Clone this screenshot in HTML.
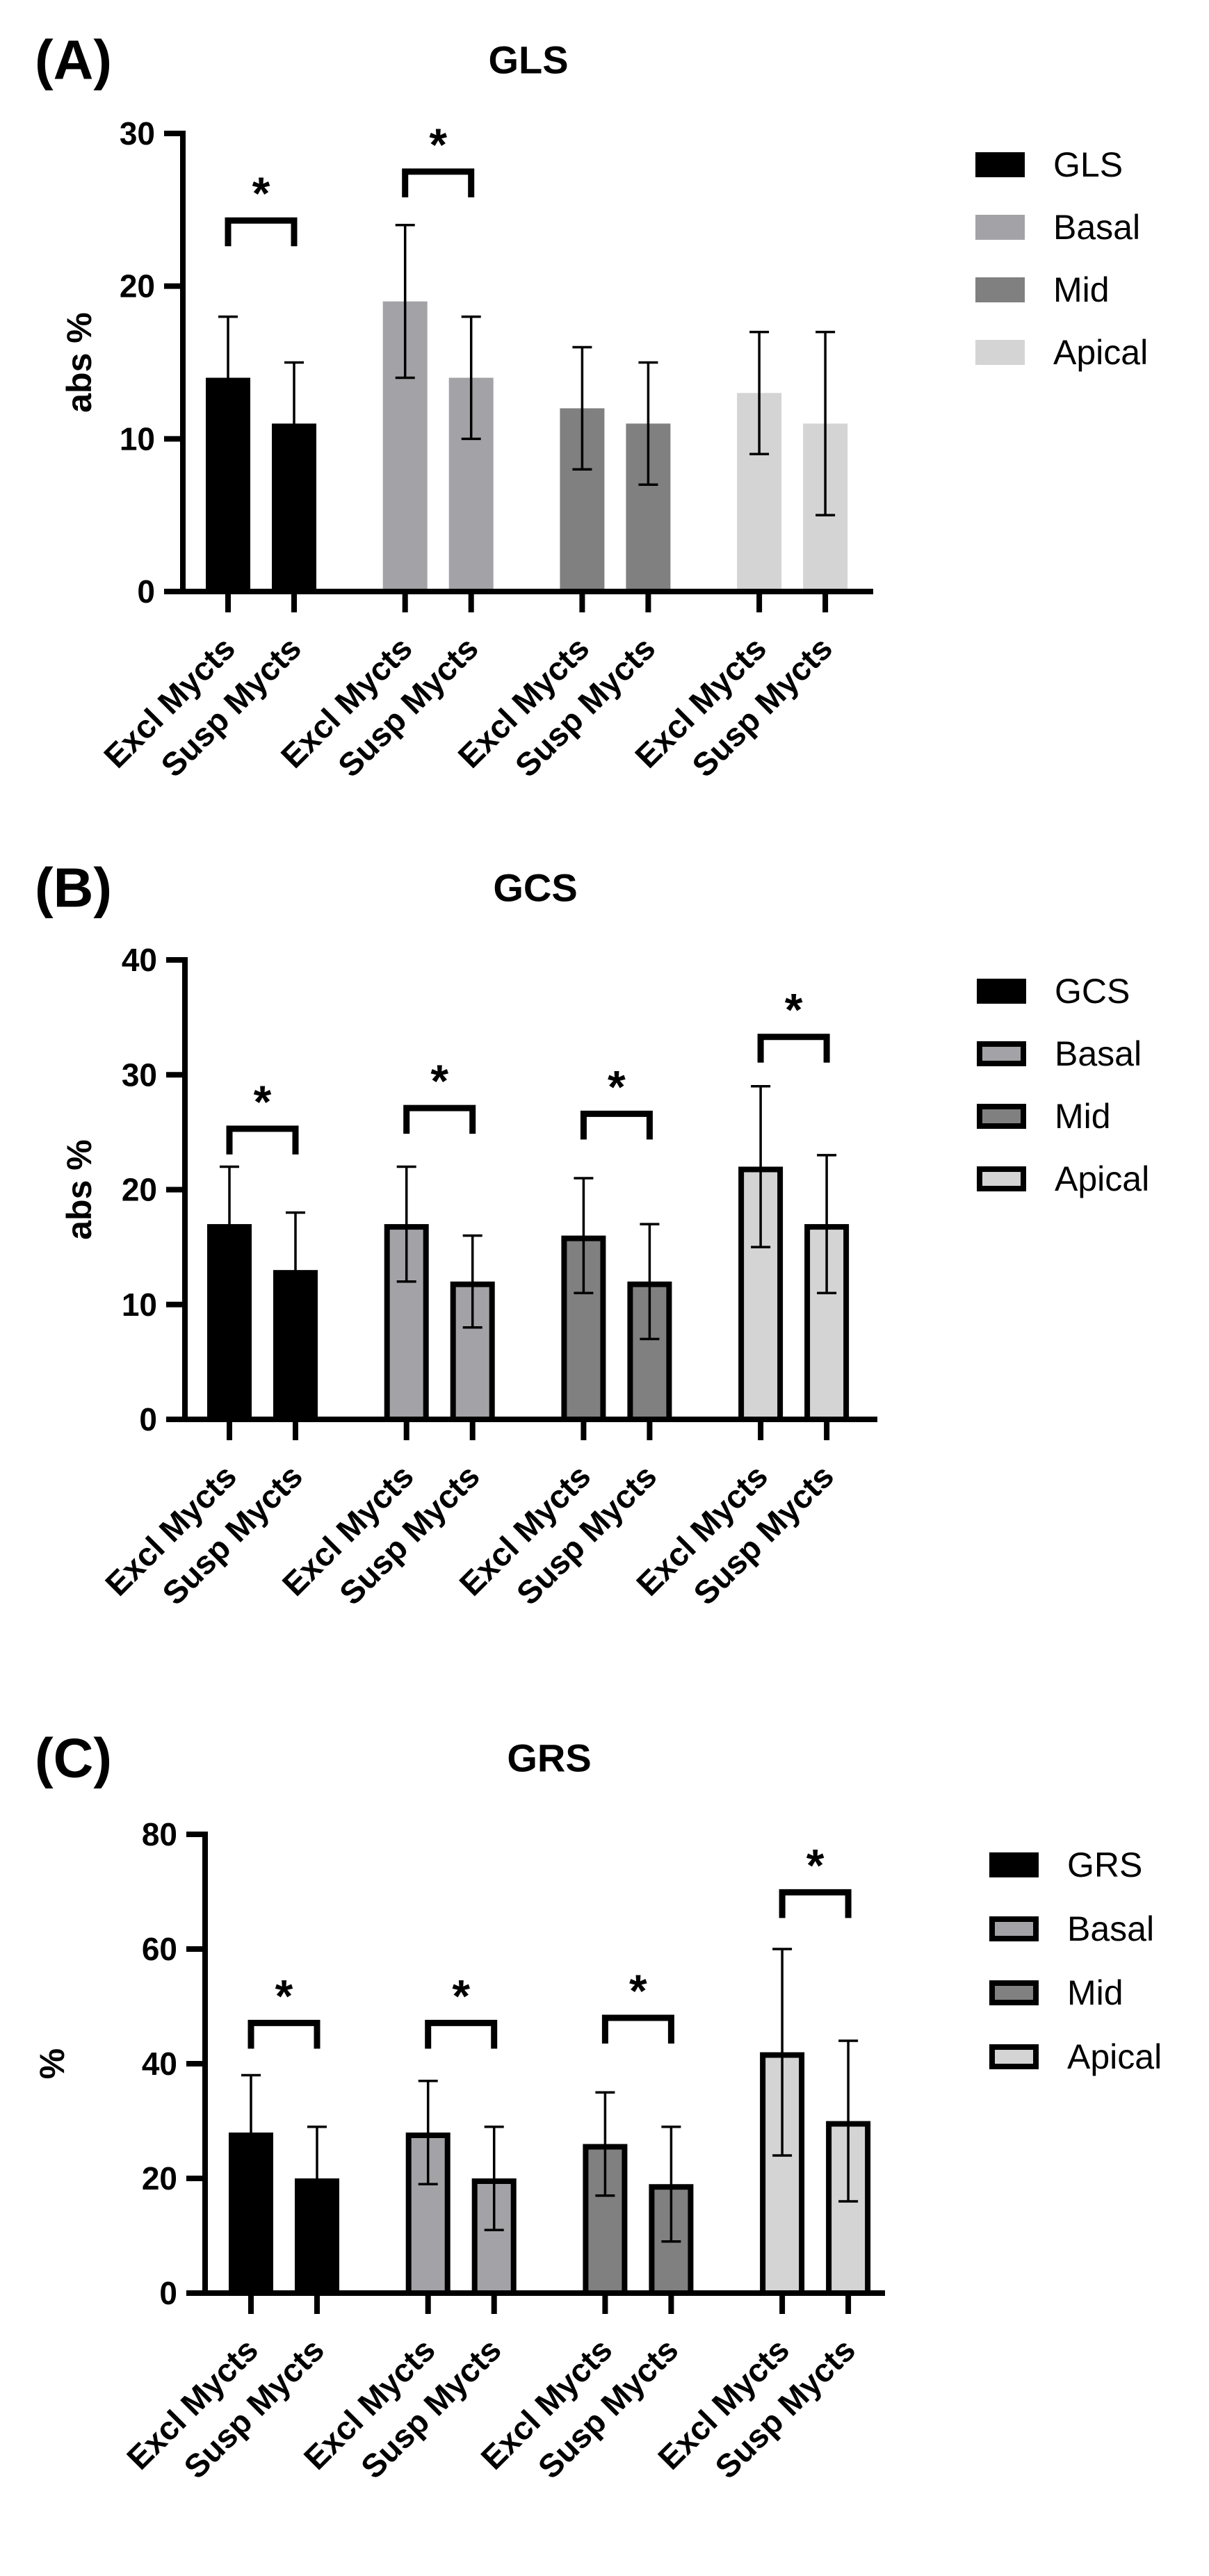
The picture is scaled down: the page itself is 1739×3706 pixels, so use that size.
<!DOCTYPE html>
<html>
<head>
<meta charset="utf-8">
<style>
html,body{margin:0;padding:0;background:#fff;}
svg{display:block;}
text{font-family:"Liberation Sans",Arial,sans-serif;}
</style>
</head>
<body>
<svg id="fig" width="1739" height="3706" viewBox="0 0 1739 3706" xmlns="http://www.w3.org/2000/svg"></svg>
<script>
// ---- Data ----
const categories = ["Excl Mycts", "Susp Mycts"];
const groupsA = ["GLS", "Basal", "Mid", "Apical"];
const groupsB = ["GCS", "Basal", "Mid", "Apical"];
const groupsC = ["GRS", "Basal", "Mid", "Apical"];
const meansA = [14, 11, 19, 14, 12, 11, 13, 11];
const sdA    = [4, 4, 5, 4, 4, 4, 4, 6];
const meansB = [17, 13, 17, 12, 16, 12, 22, 17];
const sdB    = [5, 5, 5, 4, 5, 5, 7, 6];
const meansC = [28, 20, 28, 20, 26, 19, 42, 30];
const sdC    = [10, 9, 9, 9, 9, 10, 18, 14];
const ticksA = [0, 10, 20, 30];
const ticksB = [0, 10, 20, 30, 40];
const ticksC = [0, 20, 40, 60, 80];
const sigGroupsA = [0, 1];
const sigTopA = [24.3, 27.5];
const sigGroupsB = [0, 1, 2, 3];
const sigTopB = [25.3, 27.1, 26.6, 33.3];
const sigGroupsC = [0, 1, 2, 3];
const sigTopC = [47.1, 47.1, 48.0, 69.9];

const NS = "http://www.w3.org/2000/svg";
const svg = document.getElementById('fig');
const colors = ["#000000", "#a3a3a7", "#808080", "#d4d4d4"];

function mk(tag, attrs, parent) {
  const e = document.createElementNS(NS, tag);
  for (const k in attrs) e.setAttribute(k, attrs[k]);
  (parent || svg).appendChild(e);
  return e;
}

function panel(cfg) {
  const g = mk('g', {});
  
  
  const yMax = cfg.ticks[cfg.ticks.length - 1];
  const yScale = v => cfg.y0 - (cfg.y0 - cfg.yTop) * v / yMax;
  const barW = 64, within = 95, step = 254.7;
  const xLeft = i => cfg.x0 + Math.floor(i / 2) * step + (i % 2) * within;
  const xCenter = i => xLeft(i) + barW / 2;

  // panel letter
  const L = mk('text', {x: 50, y: cfg.letterY, 'font-size': 80, 'font-weight': 'bold', 'dominant-baseline': 'central'}, g);
  L.textContent = cfg.letter;
  
  
  // title
  const T = mk('text', {x: cfg.titleX, y: cfg.letterY, 'font-size': 56, 'font-weight': 'bold', 'text-anchor': 'middle', 'dominant-baseline': 'central'}, g);
  T.textContent = cfg.title;
  
  

  // bars
  for (let i = 0; i < cfg.means.length; i++) {
    const gi = Math.floor(i / 2);
    const top = yScale(cfg.means[i]);
    let r;
    if (cfg.outline) {
      r = mk('rect', {x: xLeft(i) + 4, y: top + 4, width: barW - 8, height: cfg.y0 - top - 4, fill: colors[gi], stroke: '#000', 'stroke-width': 8}, g);
    } else {
      r = mk('rect', {x: xLeft(i), y: top, width: barW, height: cfg.y0 - top, fill: colors[gi]}, g);
    }
    
    
  }
  // error bars
  for (let i = 0; i < cfg.means.length; i++) {
    const cx = xCenter(i);
    const hi = yScale(cfg.means[i] + cfg.sd[i]);
    const lo = yScale(cfg.means[i] - cfg.sd[i]);
    const eb = mk('g', {stroke: '#000', 'stroke-width': 3.5}, g);
    
    
    mk('line', {x1: cx, x2: cx, y1: hi, y2: lo}, eb);
    mk('line', {x1: cx - 14, x2: cx + 14, y1: hi, y2: hi}, eb);
    mk('line', {x1: cx - 14, x2: cx + 14, y1: lo, y2: lo}, eb);
  }
  // axes
  const ax = mk('g', {stroke: '#000', 'stroke-width': 8, fill: 'none'}, g);
  
  
  mk('line', {x1: cfg.axisX, x2: cfg.axisX, y1: cfg.yTop - 4, y2: cfg.y0 + 4}, ax);
  mk('line', {x1: cfg.axisX - 27, x2: cfg.axisEnd, y1: cfg.y0, y2: cfg.y0}, ax);
  cfg.ticks.forEach(t => {
    const y = yScale(t);
    mk('line', {x1: cfg.axisX - 27, x2: cfg.axisX, y1: y, y2: y}, ax);
    const tl = mk('text', {x: cfg.axisX - 40, y: y, 'font-size': 46, 'font-weight': 'bold', 'text-anchor': 'end', 'dominant-baseline': 'central'}, g);
    tl.textContent = t;
    
    
  });
  for (let i = 0; i < cfg.means.length; i++) {
    const cx = xCenter(i);
    mk('line', {x1: cx, x2: cx, y1: cfg.y0, y2: cfg.y0 + 30}, ax);
    const ex = cx + 13, ey = cfg.y0 + 85;
    const xl = mk('text', {x: ex, y: ey, 'font-size': 47, 'font-weight': 'bold', 'text-anchor': 'end', transform: 'rotate(-45 ' + ex + ' ' + ey + ')'}, g);
    xl.textContent = categories[i % 2];
    
    
  }
  // y title
  const yt = mk('text', {x: cfg.yLabelX, y: (cfg.y0 + cfg.yTop) / 2, 'font-size': 50, 'font-weight': 'bold', 'text-anchor': 'middle', 'dominant-baseline': 'central', transform: 'rotate(-90 ' + cfg.yLabelX + ' ' + ((cfg.y0 + cfg.yTop) / 2) + ')'}, g);
  yt.textContent = cfg.yLabel;
  
  

  // significance brackets
  cfg.sigGroups.forEach((gi, k) => {
    const a = xCenter(gi * 2), b = xCenter(gi * 2 + 1);
    const yT = yScale(cfg.sigTop[k]);
    const br = mk('path', {d: 'M' + a + ' ' + (yT + 37) + ' V' + yT + ' H' + b + ' V' + (yT + 37), stroke: '#000', 'stroke-width': 9, fill: 'none'}, g);
    
    
    const st = mk('text', {x: (a + b) / 2, y: yT - 16, 'font-size': 66, 'font-weight': 'bold', 'text-anchor': 'middle'}, g);
    st.textContent = '*';
    
    
  });

  // legend
  cfg.groups.forEach((name, k) => {
    const cy = cfg.legY + k * cfg.legStep;
    const le = mk('g', {}, g);
    
    
    if (cfg.outline) {
      mk('rect', {x: cfg.legX + 4, y: cy - 14, width: 63, height: 28, fill: colors[k], stroke: '#000', 'stroke-width': 8}, le);
    } else {
      mk('rect', {x: cfg.legX, y: cy - 18, width: 71, height: 36, fill: colors[k]}, le);
    }
    const lt = mk('text', {x: cfg.legX + 112, y: cy, 'font-size': 50, 'dominant-baseline': 'central'}, le);
    lt.textContent = name;
  });
}

panel({id: 'a', letter: '(A)', title: 'GLS', letterY: 86, titleX: 760, means: meansA, sd: sdA, ticks: ticksA, groups: groupsA,
  sigGroups: sigGroupsA, sigTop: sigTopA, y0: 851, yTop: 192, x0: 296, axisX: 263, axisEnd: 1256, outline: false,
  yLabel: 'abs %', yLabelX: 114, legX: 1403, legY: 237, legStep: 90});
panel({id: 'b', letter: '(B)', title: 'GCS', letterY: 1277, titleX: 770, means: meansB, sd: sdB, ticks: ticksB, groups: groupsB,
  sigGroups: sigGroupsB, sigTop: sigTopB, y0: 2042, yTop: 1381, x0: 298, axisX: 266, axisEnd: 1262, outline: true,
  yLabel: 'abs %', yLabelX: 114, legX: 1405, legY: 1426, legStep: 90});
panel({id: 'c', letter: '(C)', title: 'GRS', letterY: 2529, titleX: 790, means: meansC, sd: sdC, ticks: ticksC, groups: groupsC,
  sigGroups: sigGroupsC, sigTop: sigTopC, y0: 3299, yTop: 2639, x0: 329, axisX: 295, axisEnd: 1273, outline: true,
  yLabel: '%', yLabelX: 75, legX: 1423, legY: 2683, legStep: 92});
</script>
</body>
</html>
